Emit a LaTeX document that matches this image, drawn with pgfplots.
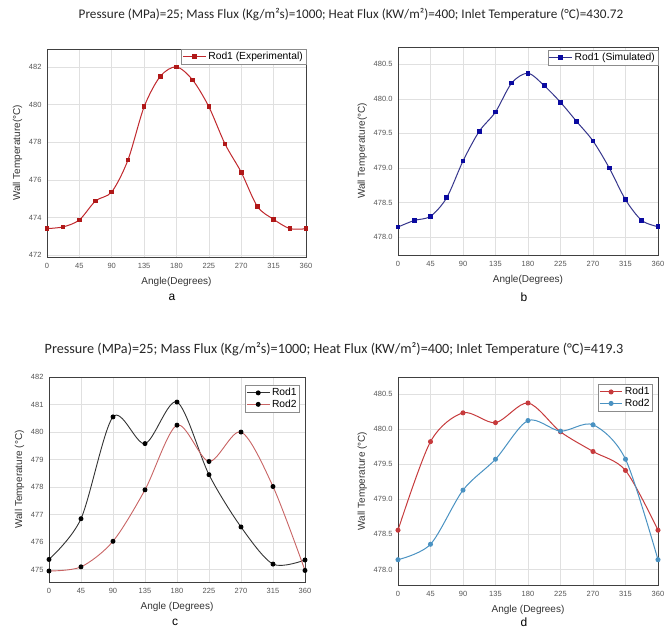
\documentclass[border=0pt]{standalone}
\usepackage{fontspec}
\setmainfont{Liberation Sans}
\newfontfamily\carlito{Carlito}
\usepackage{pgfplots}
\pgfplotsset{compat=1.18}
\definecolor{redA}{HTML}{C0282D}
\definecolor{redAm}{HTML}{B01818}
\definecolor{navyB}{HTML}{35358C}
\definecolor{navyBm}{HTML}{0A0AA0}
\definecolor{redC}{HTML}{C86464}
\definecolor{redD}{HTML}{C63A3C}
\definecolor{blueD}{HTML}{4A92C2}
\definecolor{tickgray}{HTML}{555555}
\pgfplotsset{
  panel/.style={
    scale only axis,
    xmin=0, xmax=360,
    xtick={0,45,90,135,180,225,270,315,360},
    grid=major,
    major grid style={draw=black!12, line width=0.5pt},
    axis line style={draw=black!75, line width=0.8pt},
    major tick length=0pt,
    tick label style={font=\fontsize{7.5}{9}\selectfont, text=tickgray},
    /pgf/number format/assume math mode=true,
    label style={font=\fontsize{10}{12}\selectfont, text=black!80},
    xlabel style={yshift=-2pt},
    legend style={font=\fontsize{10.3}{11}\selectfont, draw=black!45, fill=white,
      inner sep=1pt, row sep=-1.5pt, cells={anchor=west}},
    legend cell align=left,
    legend image code/.code={\draw[mark repeat=2,mark phase=2] plot coordinates {(0cm,0cm) (0.4cm,0cm) (0.8cm,0cm)};},
    xticklabel style={yshift=-3pt},
    yticklabel style={xshift=-2pt},
  },
  onedec/.style={yticklabel style={/pgf/number format/.cd, fixed, fixed zerofill, precision=1}},
}
\begin{document}
\begin{tikzpicture}
% titles
\node[font=\carlito\fontsize{13.2}{15}\selectfont, text=black!85] at (351pt,617pt) {Pressure (MPa)=25; Mass Flux (Kg/m²s)=1000; Heat Flux (KW/m²)=400; Inlet Temperature (°C)=430.72};
\node[font=\carlito\fontsize{14.2}{16}\selectfont, text=black!85] at (334pt,283pt) {Pressure (MPa)=25; Mass Flux (Kg/m²s)=1000; Heat Flux (KW/m²)=400; Inlet Temperature (°C)=419.3};

% panel a
\begin{axis}[panel, at={(47pt,375pt)}, anchor=south west, width=259pt, height=208pt,
  ymin=471.9, ymax=482.95, ytick={472,474,476,478,480,482},
  xlabel={Angle(Degrees)}, ylabel={Wall Temperature(°C)},
  legend style={at={(rel axis cs:1,1)}, anchor=north east}]
\addplot[redA, line width=1pt, smooth, mark=square*, mark size=1.8pt, mark options={fill=redAm, draw=redAm}] coordinates {
(0,473.41) (22.5,473.5) (45,473.87) (67.5,474.88) (90,475.36) (112.5,477.05) (135,479.88) (157.5,481.5) (180,482.0) (202.5,481.3) (225,479.88) (247.5,477.9) (270,476.4) (292.5,474.58) (315,473.9) (337.5,473.41) (360,473.4)};
\addlegendentry{Rod1 (Experimental)}
\end{axis}
\node[font=\fontsize{12}{14}\selectfont] at (172pt,335pt) {a};

% panel b
\begin{axis}[panel, onedec, at={(398pt,377pt)}, anchor=south west, width=260pt, height=208pt,
  ymin=477.74, ymax=480.75, ytick={478,478.5,479,479.5,480,480.5},
  xlabel={Angle(Degrees)}, ylabel={Wall Temperature(°C)},
  legend style={at={(rel axis cs:1,0.985)}, anchor=north east}]
\addplot[navyB, line width=1pt, smooth, mark=square*, mark size=1.8pt, mark options={fill=navyBm, draw=navyBm}] coordinates {
(0,478.145) (22.5,478.24) (45,478.30) (67.5,478.57) (90,479.10) (112.5,479.53) (135,479.81) (157.5,480.23) (180,480.37) (202.5,480.19) (225,479.95) (247.5,479.67) (270,479.39) (292.5,479.0) (315,478.54) (337.5,478.24) (360,478.15)};
\addlegendentry{Rod1 (Simulated)}
\end{axis}
\node[font=\fontsize{12}{14}\selectfont] at (524pt,335pt) {b};

% panel c
\begin{axis}[panel, at={(49pt,50pt)}, anchor=south west, width=256pt, height=205pt,
  ymin=474.55, ymax=482, ytick={475,476,477,478,479,480,481,482},
  xlabel={Angle (Degrees)}, ylabel={Wall Temperature (°C)},
  legend style={at={(rel axis cs:0.98,0.96)}, anchor=north east}]
\addplot[black!80, line width=0.9pt, smooth, mark=*, mark size=2pt, mark options={fill=black, draw=black}] coordinates {
(0,475.37) (45,476.85) (90,480.55) (135,479.58) (180,481.09) (225,478.45) (270,476.55) (315,475.2) (360,475.35)};
\addlegendentry{Rod1}
\addplot[redC, line width=0.9pt, smooth, mark=*, mark size=2pt, mark options={fill=black, draw=black}] coordinates {
(0,474.95) (45,475.1) (90,476.03) (135,477.9) (180,480.25) (225,478.93) (270,480.0) (315,478.02) (360,474.97)};
\addlegendentry{Rod2}
\end{axis}
\node[font=\fontsize{12}{14}\selectfont] at (175pt,10pt) {c};

% panel d
\begin{axis}[panel, onedec, at={(398pt,47pt)}, anchor=south west, width=260pt, height=208pt,
  ymin=477.78, ymax=480.74, ytick={478,478.5,479,479.5,480,480.5},
  xlabel={Angle (Degrees)}, ylabel={Wall Temperature (°C)},
  legend style={at={(rel axis cs:0.98,0.965)}, anchor=north east}]
\addplot[redD, line width=1pt, smooth, mark=*, mark size=2pt, mark options={fill=redD, draw=redD}] coordinates {
(0,478.56) (45,479.82) (90,480.23) (135,480.09) (180,480.37) (225,479.96) (270,479.68) (315,479.41) (360,478.56)};
\addlegendentry{Rod1}
\addplot[blueD, line width=1pt, smooth, mark=*, mark size=2pt, mark options={fill=blueD, draw=blueD}] coordinates {
(0,478.14) (45,478.36) (90,479.13) (135,479.57) (180,480.12) (225,479.97) (270,480.06) (315,479.57) (360,478.14)};
\addlegendentry{Rod2}
\end{axis}
\node[font=\fontsize{12}{14}\selectfont] at (524pt,10pt) {d};

\pgfresetboundingbox
\path (0pt,0pt) rectangle (665pt,632pt);
\end{tikzpicture}
\end{document}
